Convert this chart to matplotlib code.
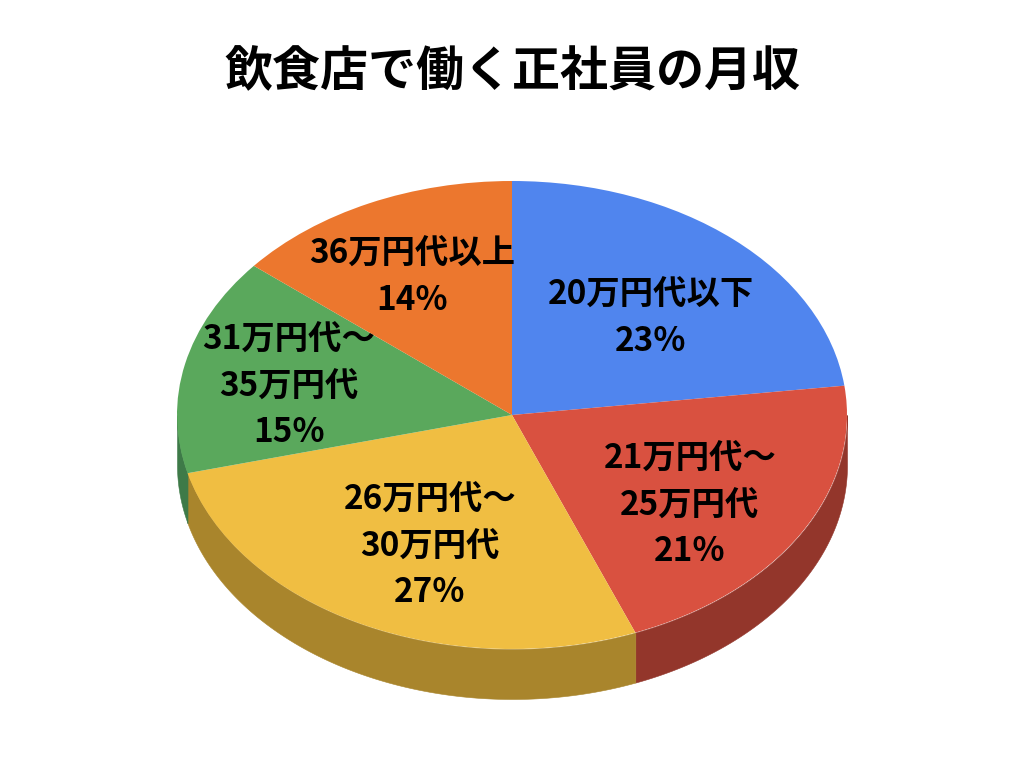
import numpy as np
import matplotlib
matplotlib.use("Agg")
import matplotlib.pyplot as plt

plt.rcParams['font.family'] = ['Noto Sans CJK JP', 'DejaVu Sans']

title = "飲食店で働く正社員の月収"
categories = ["20万円代以下", "21万円代〜\n25万円代", "26万円代〜\n30万円代", "31万円代〜\n35万円代", "36万円代以上"]
values = [23, 21, 27, 15, 14]
colors = ["#5085EE", "#D95140", "#F0BE42", "#5AA85C", "#EC772E"]
side_colors = ["#3A5FA8", "#93362B", "#A9852C", "#3E7A48", "#A8541F"]

W, H = 1024, 768
CX, CY, RX, RY, DEPTH = 512, 415, 335, 234, 50
label_px = [(651, 318), (690, 505), (430, 546), (289, 386), (412, 277)]

fig = plt.figure(figsize=(W / 100, H / 100), dpi=100, facecolor="white")
ax = fig.add_axes([0, 0, 1, 1])

# side wall of the disc (only the front half, clockwise angle from top 90..270)
depth = DEPTH / RY
edges = np.cumsum([0] + values) / sum(values) * 360.0
for a0, a1, c in zip(edges[:-1], edges[1:], side_colors):
    lo, hi = max(a0, 90.0), min(a1, 270.0)
    if hi <= lo:
        continue
    t = np.radians(90.0 - np.linspace(lo, hi, 120))
    ax.fill_between(np.cos(t), np.sin(t), np.sin(t) - depth, color=c, linewidth=0.4, zorder=1)

# top face
wedges, _ = ax.pie(values, colors=colors, startangle=90, counterclock=False, radius=1.0,
                   wedgeprops=dict(linewidth=0.4, edgecolor="none"))
for w in wedges:
    w.set_zorder(2)

ax.set_aspect("auto")
ax.set_xlim(-CX / RX, (W - CX) / RX)
ax.set_ylim((CY - H) / RY, CY / RY)
ax.axis("off")

for (px, py), cat, v in zip(label_px, categories, values):
    fig.text(px / W, 1 - py / H, f"{cat}\n{v}%", ha="center", va="center", fontsize=24,
             fontweight="bold", color="black", linespacing=1.53, zorder=5)

fig.text(512 / W, 1 - 72 / H, title, ha="center", va="center", fontsize=34.6, fontweight="bold", color="black")

fig.savefig("out.png", dpi=100, facecolor="white")
